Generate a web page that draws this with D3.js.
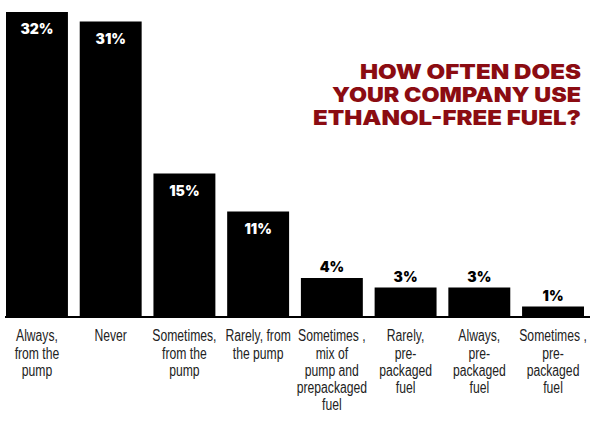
<!DOCTYPE html>
<html><head><meta charset="utf-8">
<script src="https://cdn.jsdelivr.net/npm/d3@7"></script>
<style>html,body{margin:0;padding:0;background:#fff;}svg{display:block;}</style>
</head><body>
<script>
const categories = [
  "Always,\nfrom the\npump",
  "Never",
  "Sometimes,\nfrom the\npump",
  "Rarely, from\nthe pump",
  "Sometimes ,\nmix of\npump and\nprepackaged\nfuel",
  "Rarely,\npre-\npackaged\nfuel",
  "Always,\npre-\npackaged\nfuel",
  "Sometimes ,\npre-\npackaged\nfuel"
];
const values = [32, 31, 15, 11, 4, 3, 3, 1];
const titleLines = ["HOW OFTEN DOES", "YOUR COMPANY USE", "ETHANOL-FREE FUEL?"];

const W = 600, H = 423;
const svg = d3.select("body").append("svg").attr("width", W).attr("height", H);

const x = d3.scaleBand().domain(categories).range([6, 584]).paddingInner(0.16).paddingOuter(0);
const y = d3.scaleLinear().domain([0, 32]).range([316, 12]);

svg.selectAll("rect.bar").data(values).join("rect")
  .attr("class", "bar")
  .attr("x", (d, i) => x(categories[i]))
  .attr("width", x.bandwidth())
  .attr("y", d => y(d))
  .attr("height", d => y(0) - y(d))
  .attr("fill", "#000");

svg.append("line").attr("x1", 5).attr("x2", 590).attr("y1", y(0) + 1).attr("y2", y(0) + 1)
  .attr("stroke", "#000").attr("stroke-width", 2);

svg.selectAll("text.val").data(values).join("text")
  .attr("class", "val")
  .attr("x", (d, i) => x(categories[i]) + x.bandwidth() / 2)
  .attr("y", (d, i) => i < 4 ? y(d) + 22 : y(d) - 6)
  .attr("text-anchor", "middle")
  .attr("font-family", "Inter, 'DejaVu Sans', sans-serif")
  .attr("font-weight", 900)
  .attr("font-size", 14)
  .attr("fill", (d, i) => i < 4 ? "#fff" : "#000")
  .text(d => d + "%");

const lab = svg.selectAll("text.cat").data(categories).join("text")
  .attr("class", "cat")
  .attr("text-anchor", "middle")
  .attr("transform", c => `translate(${x(c) + x.bandwidth() / 2},0) scale(0.76,1)`)
  .attr("font-family", "'Liberation Sans', Arial, sans-serif")
  .attr("font-size", 16)
  .attr("fill", "#222");
lab.each(function(c) {
  const t = d3.select(this);
  c.split("\n").forEach((line, j) => {
    t.append("tspan").attr("x", 0).attr("y", 341.5 + j * 17.2).text(line);
  });
});

const titleWidths = [221, 249, 268];
svg.append("text")
  .attr("text-anchor", "end")
  .attr("font-family", "Inter, 'DejaVu Sans', sans-serif")
  .attr("font-weight", 900)
  .attr("font-size", 20.5)
  .attr("fill", "#8b0c12")
  .selectAll("tspan").data(titleLines).join("tspan")
  .attr("x", 581).attr("y", (d, i) => 79 + i * 23)
  .attr("textLength", (d, i) => titleWidths[i])
  .attr("lengthAdjust", "spacingAndGlyphs")
  .text(d => d);
</script>
</body></html>
